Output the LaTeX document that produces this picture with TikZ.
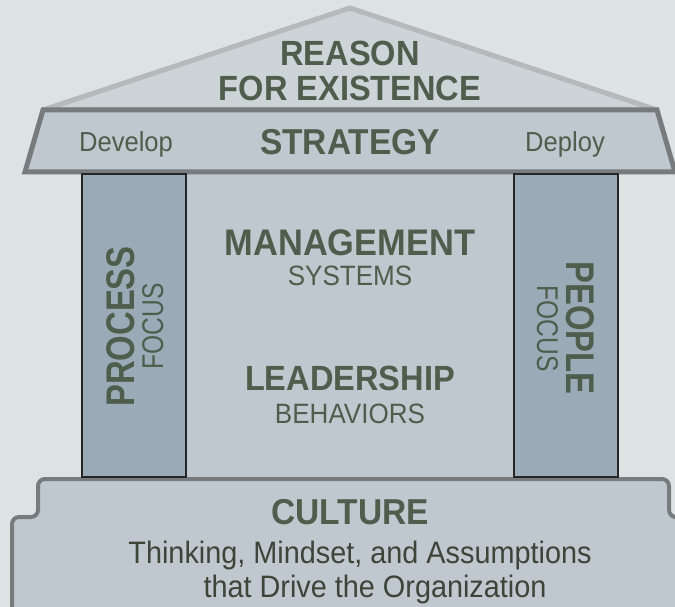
\documentclass[tikz,border=0pt]{standalone}
\usepackage{fontspec}
\setmainfont[FakeStretch=0.93]{Liberation Sans}
\newfontfamily\colfont[FakeStretch=0.82]{Liberation Sans}
\definecolor{bg}{HTML}{DDE3E3}
\definecolor{roof}{HTML}{CDD4D8}
\definecolor{roofline}{HTML}{B5B9BB}
\definecolor{stone}{HTML}{BEC8CE}
\definecolor{edge}{HTML}{787B7D}
\definecolor{pillar}{HTML}{9AABB7}
\definecolor{ink}{HTML}{4F5D4D}
\definecolor{darkink}{HTML}{3C453A}
\tikzset{
  bigtext/.style={font=\bfseries\fontsize{#1}{#1}\selectfont, text=ink, inner sep=0pt, anchor=base},
  smalltext/.style={font=\fontsize{#1}{#1}\selectfont, text=ink, inner sep=0pt, anchor=base},
  colbig/.style={font=\colfont\bfseries\fontsize{40}{40}\selectfont, text=ink, inner sep=0pt, anchor=base},
  colsmall/.style={font=\colfont\fontsize{30}{30}\selectfont, text=ink, inner sep=0pt, anchor=base},
  pillarbox/.style={fill=pillar, draw=black!85, line width=2.5pt}
}
\begin{document}
\begin{tikzpicture}[x=1pt,y=-1pt]
  \useasboundingbox (0,0) rectangle (675,607);
  \clip (0,0) rectangle (675,607);
  \fill[bg] (0,0) rectangle (675,607);
  \draw[fill=roof, draw=roofline, line width=5pt, line join=round] (43,110) -- (350,8) -- (657,110) -- cycle;
  \fill[stone] (82,172) rectangle (618,478);
  \draw[fill=stone, draw=edge, line width=5pt] (43,110) -- (657,110) -- (675,172) -- (25,172) -- cycle;
  \draw[fill=stone, draw=edge, line width=4pt, rounded corners=7pt] (12,640) -- (12,517) -- (38,517) -- (38,479) -- (669,479) -- (669,517) -- (700,517) -- (700,640);
  \draw[pillarbox] (82,174) rectangle (186,477);
  \draw[pillarbox] (514,174) rectangle (618,477);

  \node[bigtext=35] (reason) at (350,66) {REASON};
  \node[bigtext=35] (existence) at (350,101) {FOR EXISTENCE};
  \node[bigtext=36] (strategy) at (350,155) {STRATEGY};
  \node[smalltext=27.5] (develop) at (126,152) {Develop};
  \node[smalltext=27.5] (deploy) at (565,152) {Deploy};
  \node[bigtext=37] (mgmt) at (350,255) {MANAGEMENT};
  \node[smalltext=28] (systems) at (350,285) {SYSTEMS};
  \node[bigtext=35] (lead) at (350,390) {LEADERSHIP};
  \node[smalltext=28] (behav) at (350,423) {BEHAVIORS};
  \node[colbig, rotate=90] (process) at (134,326.5) {PROCESS};
  \node[colsmall, rotate=90] (pfocus) at (163,326.5) {FOCUS};
  \node[colbig, rotate=-90] (people) at (566,328) {PEOPLE};
  \node[colsmall, rotate=-90] (ofocus) at (537,328.5) {FOCUS};
  \node[bigtext=36] (culture) at (350,524) {CULTURE};
  \node[smalltext=31, text=darkink] (thinking) at (360,563) {Thinking, Mindset, and Assumptions};
  \node[smalltext=31, text=darkink] (drive) at (375,597) {that Drive the Organization};
\end{tikzpicture}
\end{document}
